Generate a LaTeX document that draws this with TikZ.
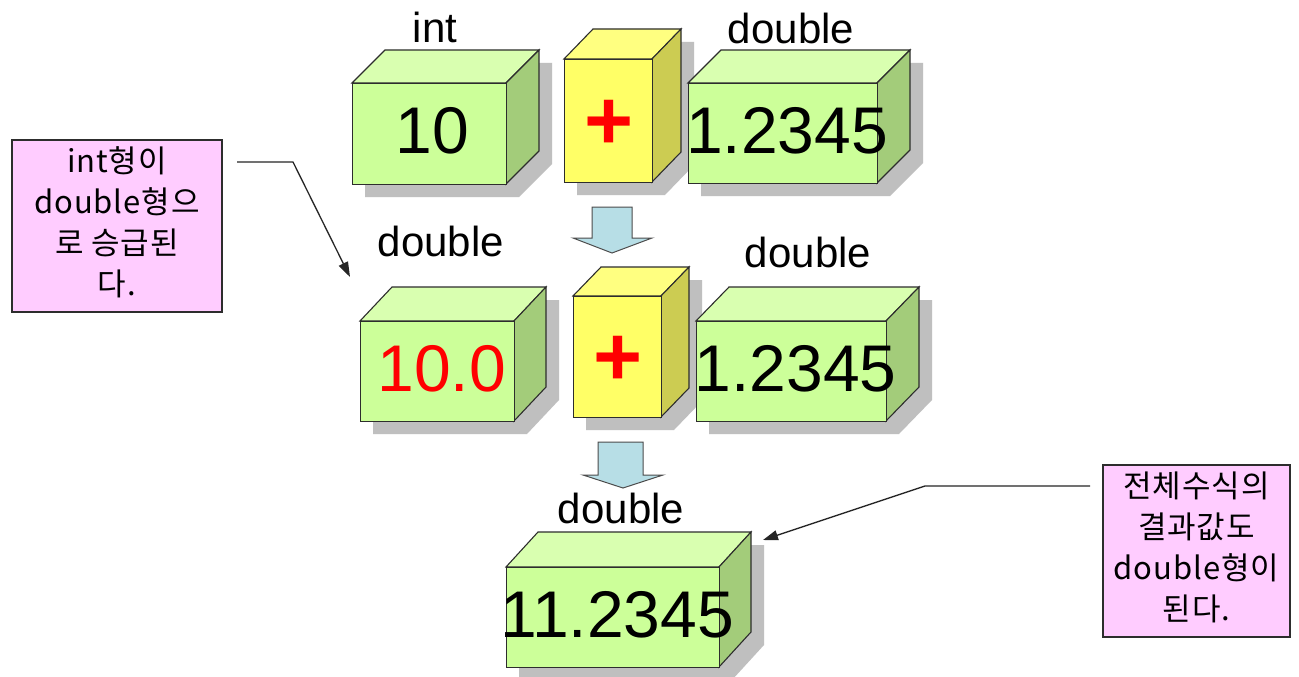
\documentclass[tikz,border=0pt]{standalone}
\usepackage{fontspec}
\setmainfont{Liberation Sans}
\newfontfamily\kor[LetterSpace=3]{Noto Sans CJK KR}
\usetikzlibrary{arrows.meta}
\definecolor{gfront}{RGB}{204,255,153}
\definecolor{gtop}{RGB}{217,255,176}
\definecolor{gside}{RGB}{163,204,122}
\definecolor{yfront}{RGB}{255,255,102}
\definecolor{ytop}{RGB}{255,255,128}
\definecolor{yside}{RGB}{204,204,82}
\definecolor{shad}{RGB}{191,191,191}
\definecolor{pinkc}{RGB}{255,204,255}
\definecolor{arrfill}{RGB}{183,222,230}
\definecolor{edgec}{RGB}{45,45,45}
\tikzset{
  cubeedge/.style={draw=edgec, line width=1.1pt},
  numtext/.style={font=\fontsize{66}{70}\selectfont, inner sep=0pt},
  plustext/.style={font=\bfseries\fontsize{84}{90}\selectfont, text=red, inner sep=0pt},
  lbl/.style={font=\fontsize{42}{50}\selectfont, anchor=base, inner sep=0pt},
  callout/.style={draw=edgec, line width=1.2pt, fill=pinkc, inner sep=0pt,
    font=\kor\fontsize{31}{41}\selectfont},
  blockarrow/.style={draw=black!70, line width=1pt, fill=arrfill, line join=miter},
  conn/.style={draw=black!85, line width=1.3pt, -{Triangle[length=15pt,width=10pt]}}
}
% name, x, y, w, h, dx, dy, colour prefix
\newcommand\mycube[8]{%
  \fill[shad] (#2+13,#3+13) -- (#2+#6+13,#3-#7+13) -- (#2+#4+#6+13,#3-#7+13)
     -- (#2+#4+#6+13,#3+#5-#7+13) -- (#2+#4+13,#3+#5+13) -- (#2+13,#3+#5+13) -- cycle;
  \filldraw[cubeedge, fill=#8top] (#2,#3) -- (#2+#6,#3-#7) -- (#2+#4+#6,#3-#7) -- (#2+#4,#3) -- cycle;
  \filldraw[cubeedge, fill=#8side] (#2+#4,#3) -- (#2+#4+#6,#3-#7) -- (#2+#4+#6,#3+#5-#7) -- (#2+#4,#3+#5) -- cycle;
  \node[cubeedge, fill=#8front, minimum width=#4, minimum height=#5, anchor=north west, inner sep=0pt] (#1) at (#2,#3) {};
}
\begin{document}
\begin{tikzpicture}[x=1pt, y=-1pt]
\useasboundingbox (0,0) rectangle (1299,677);
\fill[white] (0,0) rectangle (1299,677);

% top row
\mycube{b10}{352}{83}{154}{101}{33}{33}{g}
\mycube{p1}{564}{59}{88}{123}{29}{30}{y}
\mycube{b12a}{688}{83}{189}{100}{33}{33}{g}
\node[numtext] (t10) at ([shift={(3,-3)}]b10.center) {10};
\node[plustext] (tp1) at ([shift={(0,4)}]p1.center) {+};
\node[numtext] (t12a) at ([shift={(4,-3)}]b12a.center) {1.2345};
\node[lbl] (l1) at (435,43) {int};
\node[lbl] (l2) at (791,44) {double};

% arrow 1
\filldraw[blockarrow] (592,207) -- (632,207) -- (632,238) -- (652,238) -- (612,253) -- (573,238) -- (592,238) -- cycle;

% middle row
\mycube{b100}{360}{321}{154}{100}{32}{34}{g}
\mycube{p2}{573}{296}{88}{121}{28}{29}{y}
\mycube{b12b}{696}{321}{190}{100}{33}{34}{g}
\node[numtext, text=red] (t100) at ([shift={(4,-3)}]b100.center) {10.0};
\node[plustext] (tp2) at ([shift={(0,4)}]p2.center) {+};
\node[numtext] (t12b) at ([shift={(4,-3)}]b12b.center) {1.2345};
\node[lbl] (l3) at (441,256) {double};
\node[lbl] (l4) at (808,267) {double};

% arrow 2
\filldraw[blockarrow] (598,442) -- (643,442) -- (643,475) -- (663,475) -- (623,488) -- (583,475) -- (598,475) -- cycle;

% bottom
\mycube{b11}{506}{567}{213}{100}{32}{35}{g}
\node[numtext] (t11) at ([shift={(4,-3)}]b11.center) {11.2345};
\node[lbl] (l5) at (621,523) {double};

% callouts
\node[callout, minimum width=210, minimum height=172] (callL) at (117,226)
  {\raisebox{-7pt}{\begin{tabular}{@{}c@{}}int형이\\double형으\\로 승급된\\다.\end{tabular}}};
\node[callout, minimum width=187, minimum height=172] (callR) at (1196.5,551)
  {\raisebox{-9pt}{\begin{tabular}{@{}c@{}}전체수식의\\결과값도\\double형이\\된다.\end{tabular}}};

\coordinate (aLs) at (237,162);
\coordinate (aLb) at (293,162);
\coordinate (aLe) at (350,277);
\draw[conn] (aLs) -- (aLb) -- (aLe);
\coordinate (aRs) at (1090,486);
\coordinate (aRb) at (925,486);
\coordinate (aRe) at (763,540);
\draw[conn] (aRs) -- (aRb) -- (aRe);
\end{tikzpicture}
\end{document}
